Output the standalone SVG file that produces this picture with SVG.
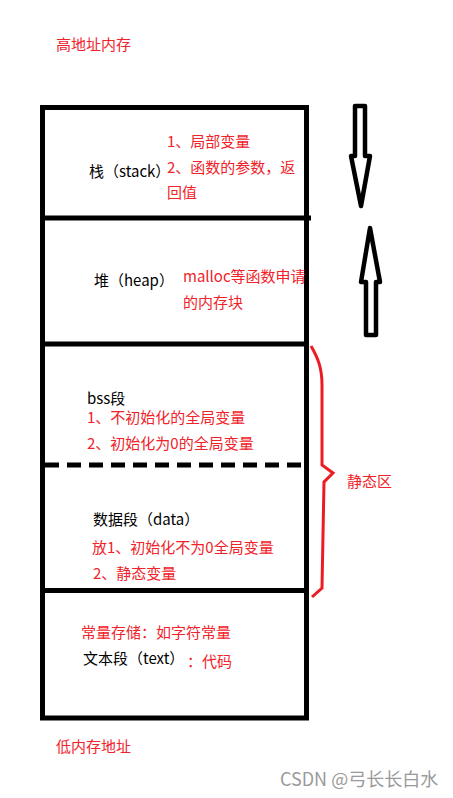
<svg xmlns="http://www.w3.org/2000/svg" width="453" height="798" viewBox="0 0 453 798">
<style>
text{font-family:"Microsoft YaHei","Noto Sans CJK SC","Noto Sans",sans-serif;font-size:15px}
.r{fill:#f0222a}
.k{fill:#000}
.line{stroke:#000;stroke-width:5;fill:none}
.arr{stroke:#000;stroke-width:4.5;fill:#fff;stroke-linejoin:round}
</style>
<rect width="453" height="798" fill="#fff"/>
<g id="memory-box">
<rect class="line" x="42.5" y="107.5" width="264" height="610.5"/>
</g>
<g id="connectors">
<line class="line" x1="42" y1="218" x2="311" y2="218"/>
<line class="line" x1="42" y1="344" x2="309" y2="344"/>
<line class="line" x1="45" y1="465" x2="306" y2="465" stroke-dasharray="14 8"/>
<line class="line" x1="42" y1="590.5" x2="309" y2="590.5"/>
<path class="arr" d="M355,106 L365,106 L365,156 L370,156 L361,206 L351,156 L355,156 Z"/>
<path class="arr" d="M366,335 L376,335 L376,282 L380,282 L370,228 L361,282 L366,282 Z"/>
<path d="M311,346 C318,358 322,368 322,385 L322,465 L333,473 L324,482 L322,588 L312,597" fill="none" stroke="#ed1c24" stroke-width="3"/>
</g>
<g id="top-label"><text class="r" x="56" y="50">高地址内存</text></g>
<g id="stack">
<text class="k" x="89" y="177">栈（stack）</text>
<text class="r" x="167" y="147">1、局部变量</text>
<text class="r" x="167" y="173">2、函数的参数，返</text>
<text class="r" x="167" y="198">回值</text>
</g>
<g id="heap">
<text class="k" x="94" y="286">堆（heap）</text>
<text class="r" x="183" y="282">malloc等函数申请</text>
<text class="r" x="183" y="308">的内存块</text>
</g>
<g id="bss">
<text class="k" x="87" y="404">bss段</text>
<text class="r" x="87" y="423">1、不初始化的全局变量</text>
<text class="r" x="87" y="449">2、初始化为0的全局变量</text>
</g>
<g id="data">
<text class="k" x="93" y="525">数据段（data）</text>
<text class="r" x="92" y="553">放1、初始化不为0全局变量</text>
<text class="r" x="93" y="579">2、静态变量</text>
</g>
<g id="text-seg">
<text class="r" x="81" y="638">常量存储：如字符常量</text>
<text class="k" x="83" y="664">文本段（text）</text>
<text class="r" x="187" y="667">：代码</text>
</g>
<g id="static-label"><text class="r" x="347" y="487">静态区</text></g>
<g id="bottom-label"><text class="r" x="56" y="752">低内存地址</text></g>
<g id="watermark"><text x="280" y="786" style="font-size:18px;fill:#9a9a9a">CSDN @弓长长白水</text></g>
</svg>
